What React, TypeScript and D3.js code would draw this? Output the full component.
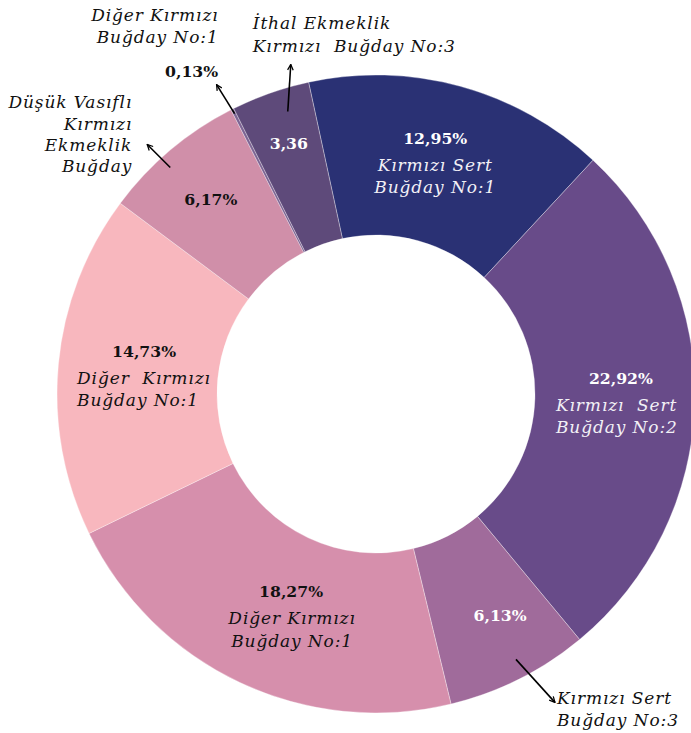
import React from 'react';
import * as d3 from 'd3';

// dilim sırası: saat yönünde, "Kırmızı Sert Buğday No:1" ile başlar
const sliceNames = [
  'Kırmızı Sert Buğday No:1',
  'Kırmızı Sert Buğday No:2',
  'Kırmızı Sert Buğday No:3',
  'Diğer Kırmızı Buğday No:1',
  'Diğer Kırmızı Buğday No:1 ',
  'Düşük Vasıflı Kırmızı Ekmeklik Buğday',
  'Diğer Kırmızı Buğday No:1  ',
  'İthal Ekmeklik Kırmızı Buğday No:3',
];
const sliceValues = [12.95, 22.92, 6.13, 18.27, 14.73, 6.17, 0.13, 3.36];
const valueLabels = ['12,95%', '22,92%', '6,13%', '18,27%', '14,73%', '6,17%', '0,13%', '3,36'];
const nameLines = [
  ['Kırmızı Sert', 'Buğday No:1'],
  ['Kırmızı  Sert', 'Buğday No:2'],
  ['Kırmızı Sert', 'Buğday No:3'],
  ['Diğer Kırmızı', 'Buğday No:1'],
  ['Diğer  Kırmızı', 'Buğday No:1'],
  ['Düşük Vasıflı', 'Kırmızı', 'Ekmeklik', 'Buğday'],
  ['Diğer Kırmızı', 'Buğday No:1'],
  ['İthal Ekmeklik', 'Kırmızı  Buğday No:3'],
];
const sliceColors = ['#2a3174', '#684b89', '#a06b9b', '#d68fac', '#f8b7be', '#d08fa9', '#7d6494', '#5e4a7a'];

const W = 691;
const H = 733;
const cx = 376;
const cy = 394;
const outerR = 319;
const innerR = 159;
const startDeg = -12.2;

const italicFont = '"DejaVu Serif", serif';
const nameSize = 17;
const nameSpacing = 0.9;
const numSize = 15.7;

// etiket yerleşimi (dilim merkezine göre kaydırma)
const insideLayout: Record<number, { dx: number; dy: number; fill: string; lineAnchor?: string; lineDx?: number; showName: boolean }> = {
  0: { dx: -4, dy: -20, fill: '#ffffff', lineAnchor: 'middle', lineDx: 0, showName: true },
  1: { dx: 6, dy: -17, fill: '#ffffff', lineAnchor: 'start', lineDx: -65, showName: true },
  2: { dx: 17, dy: 13, fill: '#ffffff', showName: false },
  3: { dx: 17, dy: -13, fill: '#111111', lineAnchor: 'middle', lineDx: 1, showName: true },
  4: { dx: 6, dy: -15, fill: '#111111', lineAnchor: 'start', lineDx: -67, showName: true },
  5: { dx: -11, dy: -6, fill: '#111111', showName: false },
  7: { dx: -8, dy: -20, fill: '#ffffff', showName: false },
};

// dış etiketler: ok başlangıcı dilim içinde (t: açı oranı, r: yarıçap), ok vektörü, metin kaydırması
const callouts = [
  { i: 7, t: 0.64, r: 296, ax: 3, ay: -47, anchor: 'start', tx: -38, ty: [-35, -12], num: null as null | { dx: number; dy: number } },
  { i: 6, t: 0.5, r: 314, ax: -18, ay: -29, anchor: 'end', tx: 2, ty: [-64, -42], num: { dx: -25, dy: -8 } },
  { i: 5, t: 0.42, r: 306, ax: -23, ay: -23, anchor: 'end', tx: -15, ty: [-37, -15, 6, 27], num: null },
  { i: 2, t: 0.455, r: 300, ax: 39, ay: 43, anchor: 'start', tx: 2, ty: [2, 24], num: null },
];

const App: React.FC = () => {
  const svgRef = React.useRef<SVGSVGElement>(null);

  React.useEffect(() => {
    if (!svgRef.current) return;
    const svg = d3.select(svgRef.current);
    svg.selectAll('*').remove();

    const data = sliceValues.map((v, i) => ({ name: sliceNames[i], value: v, i }));
    const toRad = (d: number) => (d * Math.PI) / 180;

    const pie = d3.pie<any>()
      .sort(null)
      .value(d => d.value)
      .startAngle(toRad(startDeg))
      .endAngle(toRad(startDeg + 360));
    const arcs = pie(data);

    const arc = d3.arc<any>().innerRadius(innerR).outerRadius(outerR);
    const labelArc = d3.arc<any>().innerRadius((innerR + outerR) / 2).outerRadius((innerR + outerR) / 2);

    const defs = svg.append('defs');
    defs.append('marker')
      .attr('id', 'arrowHead')
      .attr('viewBox', '0 0 10 10')
      .attr('refX', 9)
      .attr('refY', 5)
      .attr('markerWidth', 7)
      .attr('markerHeight', 7)
      .attr('markerUnits', 'userSpaceOnUse')
      .attr('orient', 'auto')
      .append('path')
      .attr('d', 'M1,1 L9,5 L1,9')
      .attr('fill', 'none')
      .attr('stroke', '#000')
      .attr('stroke-width', 1.8);

    const g = svg.append('g').attr('transform', `translate(${cx},${cy})`);

    // dilimler
    g.selectAll('path.slice')
      .data(arcs)
      .enter().append('path')
      .attr('class', 'slice')
      .attr('d', arc)
      .attr('fill', d => sliceColors[d.data.i])
      .attr('stroke', 'rgba(255,255,255,0.55)')
      .attr('stroke-width', 0.6);

    // iç etiketler
    arcs.forEach(a => {
      const lay = insideLayout[a.data.i];
      if (!lay) return;
      const [x0, y0] = labelArc.centroid(a);
      const x = x0 + lay.dx;
      const y = y0 + lay.dy;
      g.append('text')
        .attr('x', x)
        .attr('y', y)
        .attr('text-anchor', 'middle')
        .attr('font-family', '"DejaVu Serif", serif')
        .attr('font-weight', 'bold')
        .attr('font-size', numSize)
        .attr('fill', lay.fill)
        .text(valueLabels[a.data.i]);
      if (lay.showName) {
        nameLines[a.data.i].forEach((line, k) => {
          g.append('text')
            .attr('x', x + (lay.lineDx || 0))
            .attr('y', y + 27 + k * 22.5)
            .attr('text-anchor', lay.lineAnchor || 'middle')
            .attr('font-family', italicFont)
            .attr('font-style', 'italic')
            .attr('font-size', nameSize)
            .attr('letter-spacing', nameSpacing)
            .attr('fill', lay.fill === '#ffffff' ? '#f2f0f6' : '#111111')
            .style('white-space', 'pre')
            .text(line);
        });
      }
    });

    // dış etiketler ve oklar
    callouts.forEach(c => {
      const a = arcs[c.i];
      const ang = a.startAngle + c.t * (a.endAngle - a.startAngle);
      const sx = c.r * Math.sin(ang);
      const sy = -c.r * Math.cos(ang);
      const ex = sx + c.ax;
      const ey = sy + c.ay;
      g.append('line')
        .attr('x1', sx).attr('y1', sy)
        .attr('x2', ex).attr('y2', ey)
        .attr('stroke', '#000')
        .attr('stroke-width', 1.6)
        .attr('marker-end', 'url(#arrowHead)');
      nameLines[c.i].forEach((line, k) => {
        g.append('text')
          .attr('x', ex + c.tx)
          .attr('y', ey + c.ty[k])
          .attr('text-anchor', c.anchor)
          .attr('font-family', italicFont)
          .attr('font-style', 'italic')
          .attr('font-size', nameSize)
          .attr('letter-spacing', nameSpacing)
          .attr('fill', '#111111')
          .style('white-space', 'pre')
          .text(line);
      });
      if (c.num) {
        g.append('text')
          .attr('x', ex + c.num.dx)
          .attr('y', ey + c.num.dy)
          .attr('text-anchor', 'middle')
          .attr('font-family', '"DejaVu Serif", serif')
          .attr('font-weight', 'bold')
          .attr('font-size', numSize)
          .attr('fill', '#111111')
          .text(valueLabels[c.i]);
      }
    });
  }, []);

  return (
    <svg
      ref={svgRef}
      width={W}
      height={H}
      style={{ position: 'absolute', left: 0, top: 0, background: '#ffffff' }}
    />
  );
};

export default App;
